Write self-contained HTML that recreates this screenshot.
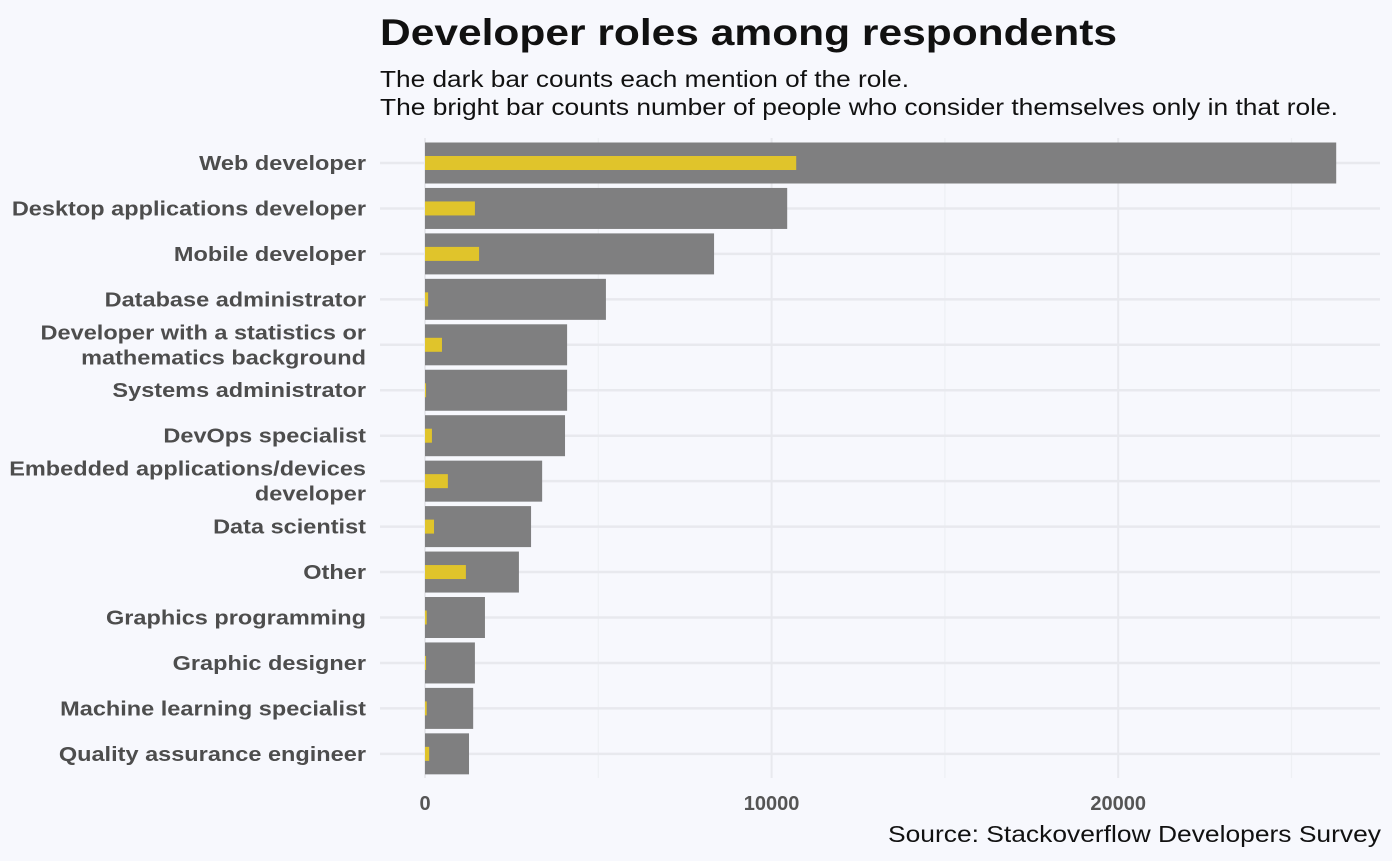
<!DOCTYPE html>
<html><head><meta charset="utf-8"><style>
body{margin:0;background:#f7f8fd;width:1392px;height:856px;overflow:hidden;font-family:"Liberation Sans",sans-serif}
</style></head><body>
<svg width="1392" height="856" xmlns="http://www.w3.org/2000/svg">
<rect width="1392" height="856" fill="#f7f8fd"/>
<text x="380" y="45" font-size="37" font-weight="bold" fill="#111" textLength="737" lengthAdjust="spacingAndGlyphs">Developer roles among respondents</text>
<text x="380" y="87" font-size="23" fill="#111" textLength="529" lengthAdjust="spacingAndGlyphs">The dark bar counts each mention of the role.</text>
<text x="380" y="115" font-size="23" fill="#111" textLength="958" lengthAdjust="spacingAndGlyphs">The bright bar counts number of people who consider themselves only in that role.</text>
<g id="grid"></g>
<g id="bars"></g>
<g id="ylabels" transform="translate(366,0) scale(1.176,1) translate(-366,0)"></g>
<g id="xlabels"></g>
<text x="1381" y="842" font-size="23" fill="#111" text-anchor="end" textLength="493" lengthAdjust="spacingAndGlyphs">Source: Stackoverflow Developers Survey</text>
</svg>
<script>
const categories=[["Web developer"],["Desktop applications developer"],["Mobile developer"],["Database administrator"],["Developer with a statistics or","mathematics background"],["Systems administrator"],["DevOps specialist"],["Embedded applications/devices","developer"],["Data scientist"],["Other"],["Graphics programming"],["Graphic designer"],["Machine learning specialist"],["Quality assurance engineer"]];
const mentions=[26290,10450,8340,5220,4100,4100,4040,3380,3060,2710,1730,1440,1390,1270];
const onlyRole=[10710,1440,1560,90,490,30,200,660,260,1180,50,30,50,120];
const xTicks=[0,10000,20000];
const xMinor=[5000,15000,25000];
const NS="http://www.w3.org/2000/svg";
const x=v=>425+v*0.03466;
const y=i=>163+i*45.45;
function mk(tag,attrs,parent){const e=document.createElementNS(NS,tag);for(const k in attrs)e.setAttribute(k,attrs[k]);parent.appendChild(e);return e;}
const grid=document.getElementById('grid'),bars=document.getElementById('bars'),yl=document.getElementById('ylabels'),xl=document.getElementById('xlabels');
xMinor.forEach(v=>{const l=mk('line',{x1:x(v),x2:x(v),y1:138,y2:778,stroke:'#eef0f4','stroke-width':1.2},grid);

});
xTicks.forEach(v=>{const l=mk('line',{x1:x(v),x2:x(v),y1:138,y2:778,stroke:'#e8e9ee','stroke-width':2},grid);


const t=mk('text',{x:x(v),y:810,'font-size':20,'font-weight':'bold',fill:'#555','text-anchor':'middle'},xl);t.textContent=v;

});
categories.forEach((c,i)=>{const l=mk('line',{x1:380,x2:1380,y1:y(i),y2:y(i),stroke:'#e8e9ee','stroke-width':2.5},grid);


const b=mk('rect',{x:x(0),y:y(i)-20.5,width:x(mentions[i])-x(0),height:41,fill:'#7f7f80'},bars);


const yb=mk('rect',{x:x(0),y:y(i)-7,width:Math.max(1,x(onlyRole[i])-x(0)),height:14,fill:'#e0c42b'},bars);


const t=mk('text',{x:366,'font-size':20,'font-weight':'bold',fill:'#4d4d4d','text-anchor':'end'},yl);


c.forEach((line,j)=>{const s=mk('tspan',{x:366,y:y(i)+7+(j-(c.length-1)/2)*25},t);s.textContent=line;});});
</script>
</body></html>
